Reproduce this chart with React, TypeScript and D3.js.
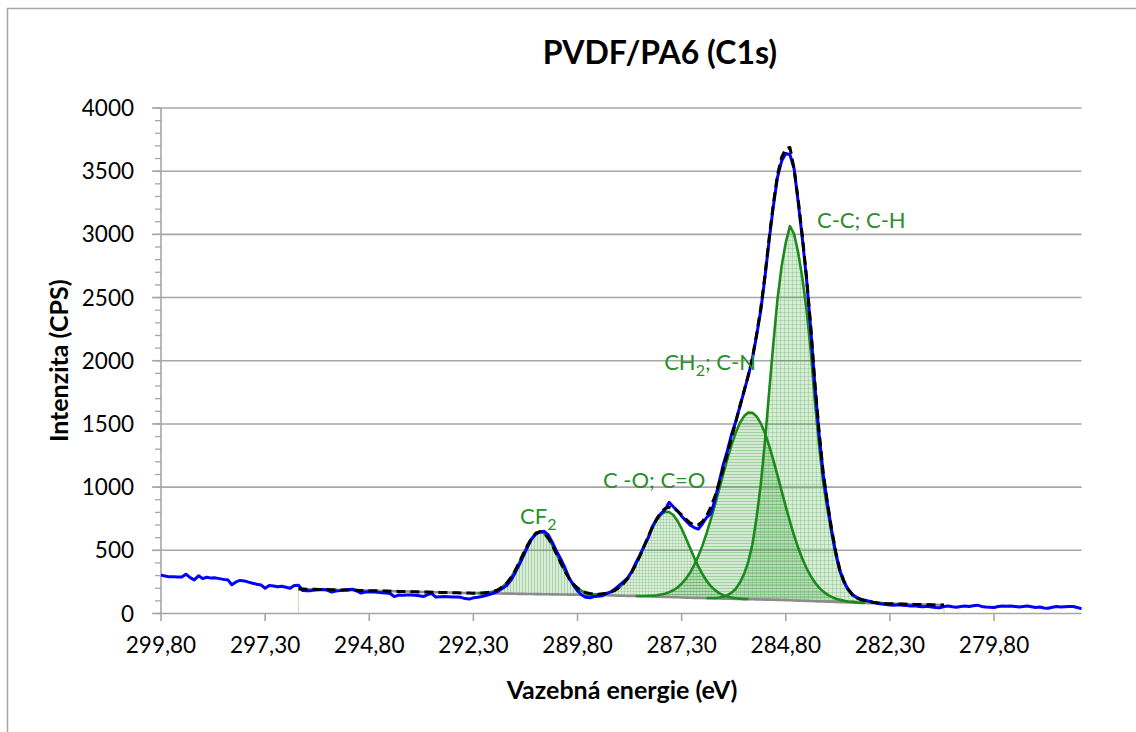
import React from "react";
import * as d3 from "d3";

// ---- DATA ----
const rawStartEnergy = 299.8;
const energyStep = 0.1;
const rawCounts = [
  305, 296, 290, 291, 289, 288, 311, 284, 266, 298,
  276, 287, 280, 282, 276, 270, 268, 228, 250, 262,
  258, 248, 240, 232, 226, 200, 222, 218, 212, 216,
  208, 200, 222, 224, 182, 180, 181, 186, 188, 190,
  184, 170, 178, 181, 186, 190, 192, 178, 162, 170,
  172, 170, 168, 164, 162, 158, 134, 146, 145, 147,
  146, 145, 140, 134, 150, 158, 130, 132, 134, 133,
  131, 130, 128, 118, 114, 124, 128, 134, 142, 152,
  164, 178, 200, 222, 262, 320, 385, 455, 525, 590,
  628, 645, 650, 622, 560, 490, 430, 360, 280, 225,
  180, 146, 128, 125, 134, 137, 140, 158, 172, 195,
  222, 250, 280, 330, 400, 463, 535, 600, 690, 745,
  790, 820, 880, 845, 812, 770, 735, 700, 680, 668,
  710, 760, 790, 900, 1040, 1180, 1290, 1420, 1520, 1640,
  1760, 1880, 2020, 2200, 2400, 2660, 2950, 3220, 3450, 3580,
  3640, 3630, 3520, 3250, 2960, 2640, 2250, 1800, 1420, 1100,
  870, 660, 480, 340, 250, 190, 150, 128, 112, 105,
  98, 88, 80, 76, 72, 68, 65, 70, 66, 64,
  60, 62, 56, 54, 58, 52, 48, 46, 55, 60,
  54, 50, 56, 60, 55, 62, 66, 56, 52, 50,
  48, 56, 60, 58, 60, 56, 52, 56, 60, 54,
  48, 52, 44, 42, 50, 55, 52, 54, 55, 56,
  48, 36,
];

const fitStartEnergy = 296.5;
const shirleyBackground = [
  194, 193, 192, 192, 191, 190, 189, 189, 188, 187,
  186, 185, 185, 184, 183, 182, 181, 181, 180, 179,
  178, 178, 177, 176, 175, 174, 174, 173, 172, 171,
  170, 170, 169, 168, 167, 166, 166, 165, 164, 163,
  162, 162, 161, 161, 160, 160, 159, 159, 158, 158,
  157, 157, 156, 155, 155, 154, 154, 153, 153, 152,
  152, 151, 151, 150, 150, 149, 149, 148, 148, 147,
  147, 146, 146,
  145, 144, 143, 142, 141, 140, 139, 139, 138, 137,
  136, 135, 134, 133, 132, 131, 130, 129, 128, 127,
  126, 125, 124, 124, 123, 122, 121, 120,
  119, 118, 118, 117, 116, 115, 114, 114, 113, 112, 111, 110, 110, 109, 108, 107,
  106, 105, 103, 102, 101, 100, 99, 97, 96, 95,
  94, 93, 91, 90, 89, 88, 87, 85, 84, 83, 82,
  81, 80, 79, 78, 78, 77, 76, 75, 74, 73,
  72, 72, 71, 70, 69, 68, 67, 67,
];

const cf2StartEnergy = 292.2;
const cf2Counts = [
  1, 2, 5, 9, 17, 31, 53, 84, 127, 183, 248, 318, 386, 443, 482, 495,
  482, 443, 386, 318, 248, 183, 127, 84, 53, 31, 17, 9, 5, 2, 1,
];
const coStartEnergy = 289.6;
const coCounts = [
  1, 2, 3, 5, 10, 16, 27, 42, 65, 96, 136, 188, 249, 319, 395, 472, 544, 605, 650, 673,
  673, 650, 605, 544, 472, 395, 319, 249, 188, 136, 96, 65, 42, 27, 16, 10, 5, 3, 2, 1,
];
const ch2StartEnergy = 288.4;
const ch2Counts = [
  1, 2, 3, 5, 7, 11, 18, 26, 39, 55, 78, 109, 148, 197, 258, 330, 416, 514, 623, 740,
  863, 987, 1107, 1219, 1316, 1394, 1448, 1476,
  1476, 1448, 1394, 1316, 1219, 1107, 987, 863, 740, 623, 514, 416, 330, 258, 197, 148,
  109, 78, 55, 39, 26, 18, 11, 7, 5, 3, 2, 1,
];
const ccStartEnergy = 286.7;
const ccCounts = [
  1, 2, 3, 7, 14, 27, 48, 80, 130, 200, 295, 435, 650, 910, 1250, 1640, 2020, 2375, 2640, 2830,
  2960,
  2900, 2750, 2550, 2300, 1975, 1575, 1235, 935, 730, 537, 371, 236, 154, 96, 57, 38, 25, 18, 12,
  8, 5, 3, 1,
];

const xTickEnergies = [299.8, 297.3, 294.8, 292.3, 289.8, 287.3, 284.8, 282.3, 279.8];
const xTickLabels = ["299,80", "297,30", "294,80", "292,30", "289,80", "287,30", "284,80", "282,30", "279,80"];
const yTickValues = [0, 500, 1000, 1500, 2000, 2500, 3000, 3500, 4000];
const yMinorValues = d3.range(0, 4001, 100);
const energyDomain = [299.8, 277.7];
const countsDomain = [0, 4000];

const peakNames = ["CF", "C -O; C=O", "CH", "C-C; C-H"];
const peakSubs = ["2", "", "2", ""];
const peakRest = ["", "", "; C-N", ""];
const peakLabelEnergy = [291.18, 289.19, 287.72, 284.05];
const peakLabelCounts = [712, 993, 1926, 3050];

const titleText = "PVDF/PA6 (C1s)";
const xTitle = "Vazebná energie (eV)";
const yTitle = "Intenzita (CPS)";

// ---- STYLE ----
const FONT = "Lato, Carlito, 'Open Sans', 'DejaVu Sans', sans-serif";
const GREEN_LINE = "#1b8a1b";
const GREEN_TEXT = "#2a8f2a";
const FILL = "#3d9e3d";
const GRID = "#a6a6a6";

const round1 = (v: number) => Math.round(v * 10) / 10;

export default function App() {
  const W = 1136;
  const H = 732;
  const x = d3.scaleLinear().domain(energyDomain).range([161, 1081.5]);
  const y = d3.scaleLinear().domain(countsDomain).range([613.5, 108]);

  const bgAt = (e: number) => {
    const k = Math.round((fitStartEnergy - e) / energyStep);
    return shirleyBackground[k];
  };

  const raw = rawCounts.map((v, i) => ({ e: round1(rawStartEnergy - i * energyStep), v }));
  const bg = shirleyBackground.map((v, i) => ({ e: round1(fitStartEnergy - i * energyStep), v }));

  const comps = [
    { start: cf2StartEnergy, values: cf2Counts, pattern: "pVert" },
    { start: coStartEnergy, values: coCounts, pattern: "pGrid" },
    { start: ch2StartEnergy, values: ch2Counts, pattern: "pHoriz" },
    { start: ccStartEnergy, values: ccCounts, pattern: "pGrid2" },
  ].map((c) => ({
    ...c,
    pts: c.values.map((v, i) => {
      const e = round1(c.start - i * energyStep);
      return { e, b: bgAt(e), v };
    }),
  }));

  const envelope = bg.map((p) => {
    let s = p.v;
    comps.forEach((c) => {
      const idx = Math.round((c.start - p.e) / energyStep);
      if (idx >= 0 && idx < c.values.length) s += c.values[idx];
    });
    return { e: p.e, v: s };
  });

  const line = d3
    .line<{ e: number; v: number }>()
    .x((d) => x(d.e))
    .y((d) => y(d.v));
  const compLine = d3
    .line<{ e: number; b: number; v: number }>()
    .x((d) => x(d.e))
    .y((d) => y(d.b + d.v));
  const compArea = d3
    .area<{ e: number; b: number; v: number }>()
    .x((d) => x(d.e))
    .y0((d) => y(d.b))
    .y1((d) => y(d.b + d.v));

  const bgFirst = bg[0];
  const bgLast = bg[bg.length - 1];
  const plotMidY = (y(countsDomain[0]) + y(countsDomain[1])) / 2;

  return (
    <svg
      width={W}
      height={H}
      viewBox={`0 0 ${W} ${H}`}
      style={{ position: "absolute", left: 0, top: 0, background: "#fff" }}
      fontFamily={FONT}
    >
      <defs>
        <pattern id="pVert" width="3" height="3" patternUnits="userSpaceOnUse">
          <rect width="3" height="3" fill={FILL} opacity="0.2" />
          <rect width="1" height="3" fill={FILL} opacity="0.3" />
        </pattern>
        <pattern id="pHoriz" width="3" height="3" patternUnits="userSpaceOnUse">
          <rect width="3" height="3" fill={FILL} opacity="0.22" />
          <rect width="3" height="1" fill={FILL} opacity="0.35" />
        </pattern>
        <pattern id="pGrid" width="3" height="3" patternUnits="userSpaceOnUse">
          <rect width="3" height="3" fill={FILL} opacity="0.18" />
          <rect width="1" height="3" fill={FILL} opacity="0.22" />
          <rect width="3" height="1" fill={FILL} opacity="0.22" />
        </pattern>
        <pattern id="pGrid2" width="4" height="4" patternUnits="userSpaceOnUse">
          <rect width="4" height="4" fill={FILL} opacity="0.2" />
          <rect width="1" height="4" fill={FILL} opacity="0.22" />
          <rect width="4" height="1" fill={FILL} opacity="0.22" />
        </pattern>
      </defs>

      {/* chart frame */}
      <path d={`M7.5,${H} V8.5 H${W}`} fill="none" stroke="#a6a6a6" strokeWidth={1.5} />

      {/* gridlines */}
      {yTickValues.slice(1).map((v) => (
        <line key={v} x1={161} x2={1081.5} y1={y(v)} y2={y(v)} stroke={GRID} strokeWidth={1.6} />
      ))}

      {/* component fills */}
      {comps.map((c, i) => (
        <path key={"a" + i} d={compArea(c.pts) || ""} fill={`url(#${c.pattern})`} />
      ))}

      {/* background region edges */}
      <line x1={x(bgFirst.e)} x2={x(bgFirst.e)} y1={y(bgFirst.v)} y2={y(0)} stroke="#c9e3c9" strokeWidth={1.2} />
      <line x1={x(bgLast.e)} x2={x(bgLast.e)} y1={y(bgLast.v)} y2={y(0)} stroke="#c9e3c9" strokeWidth={1.2} />

      {/* axes */}
      <line x1={161} x2={161} y1={108} y2={613.5} stroke={GRID} strokeWidth={1.6} />
      <line x1={161} x2={1081.5} y1={613.5} y2={613.5} stroke={GRID} strokeWidth={1.6} />
      {yMinorValues.map((v) => (
        <line key={"m" + v} x1={155} x2={161} y1={y(v)} y2={y(v)} stroke={GRID} strokeWidth={1.3} />
      ))}
      {yTickValues.map((v) => (
        <line key={"t" + v} x1={152} x2={161} y1={y(v)} y2={y(v)} stroke={GRID} strokeWidth={1.6} />
      ))}
      {xTickEnergies.map((e) => (
        <line key={"xt" + e} x1={x(e)} x2={x(e)} y1={613.5} y2={621} stroke={GRID} strokeWidth={1.6} />
      ))}

      {/* background line */}
      <path d={line(bg) || ""} fill="none" stroke="#8c8c8c" strokeWidth={2.6} />

      {/* component lines */}
      {comps.map((c, i) => (
        <path key={"l" + i} d={compLine(c.pts) || ""} fill="none" stroke={GREEN_LINE} strokeWidth={2.6} strokeLinejoin="round" />
      ))}

      {/* raw data */}
      <path d={line(raw) || ""} fill="none" stroke="#0000ff" strokeWidth={3} strokeLinejoin="round" />

      {/* envelope */}
      <path d={line(envelope) || ""} fill="none" stroke="#000" strokeWidth={3} strokeDasharray="9 5" strokeLinejoin="round" />

      {/* tick labels */}
      {yTickValues.map((v) => (
        <text key={"yl" + v} x={134} y={y(v)} dy="0.36em" textAnchor="end" fontSize={22.5} fill="#000">
          {v}
        </text>
      ))}
      {xTickEnergies.map((e, i) => (
        <text key={"xl" + e} x={x(e)} y={653} textAnchor="middle" fontSize={22.5} fill="#000">
          {xTickLabels[i]}
        </text>
      ))}

      {/* peak labels */}
      {peakNames.map((n, i) => (
        <text key={"pl" + i} x={x(peakLabelEnergy[i])} y={y(peakLabelCounts[i])} fontSize={22} fill={GREEN_TEXT}>
          {n}
          {peakSubs[i] ? (
            <tspan dy={6} fontSize={16}>
              {peakSubs[i]}
            </tspan>
          ) : null}
          {peakRest[i] ? <tspan dy={-6}>{peakRest[i]}</tspan> : null}
        </text>
      ))}

      {/* titles */}
      <text x={660} y={64} textAnchor="middle" fontSize={32} fontWeight="bold" fill="#000">
        {titleText}
      </text>
      <text x={622} y={699} textAnchor="middle" fontSize={25} fontWeight="bold" fill="#000">
        {xTitle}
      </text>
      <text transform={`translate(68,${plotMidY}) rotate(-90)`} textAnchor="middle" fontSize={25} fontWeight="bold" fill="#000">
        {yTitle}
      </text>
    </svg>
  );
}
